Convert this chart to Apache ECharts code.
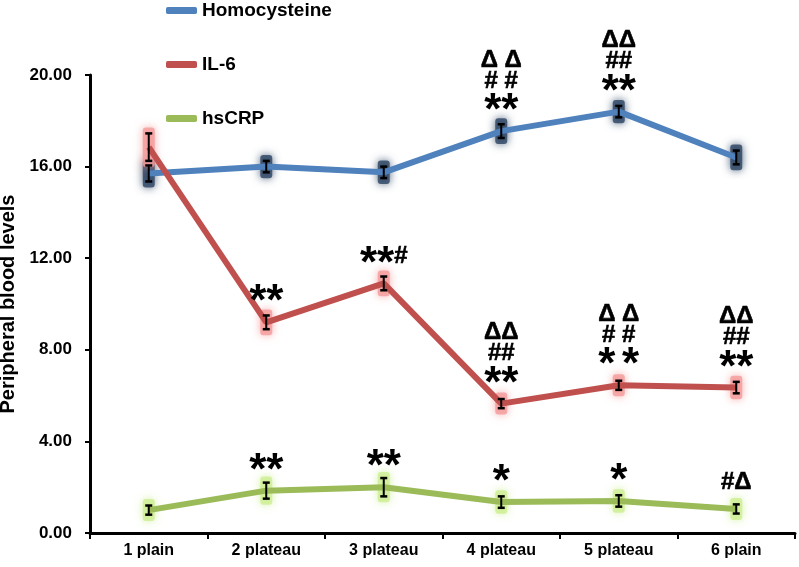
<!DOCTYPE html>
<html><head><meta charset="utf-8">
<script src="https://cdn.jsdelivr.net/npm/echarts@6/dist/echarts.min.js"></script>
<style>html,body{margin:0;padding:0;background:#fff}#c{width:799px;height:567px}</style>
</head><body><div id="c"></div>
<script>
const categories = ['1 plain', '2 plateau', '3 plateau', '4 plateau', '5 plateau', '6 plain'];
const yTicks = [0, 4, 8, 12, 16, 20];

const homocysteine    = [15.7, 16.0, 15.75, 17.55, 18.4, 16.4];
const homocysteineErr = [0.35, 0.25, 0.25, 0.3, 0.25, 0.3];
const homocysteineSig = [[], [], [], ['Δ Δ', '# #', '**'], ['ΔΔ', '##', '**'], []];

const il6    = [16.85, 9.2, 10.9, 5.65, 6.45, 6.35];
const il6Err = [0.6, 0.3, 0.3, 0.2, 0.2, 0.25];
const il6Sig = [[], ['**'], ['**#'], ['ΔΔ', '##', '**'], ['Δ Δ', '# #', '* *'], ['ΔΔ', '##', '**']];

const hscrp    = [1.0, 1.85, 2.0, 1.35, 1.4, 1.05];
const hscrpErr = [0.2, 0.35, 0.4, 0.25, 0.25, 0.2];
const hscrpSig = [[], ['**'], ['**'], ['*'], ['*'], ['#Δ']];

const seriesNames = ['Homocysteine', 'IL-6', 'hsCRP'];
const colors = ['#4F81BD', '#C0504D', '#9BBB59'];
const glows = ['#2a4262', '#f59a9a', '#cdee92'];

const FONT = '"Liberation Sans", Arial, sans-serif';
const STAR_FONT = 'bold 44px ' + FONT;
const MARK_FONT = 'bold 24px ' + FONT;
const measureCtx = document.createElement('canvas').getContext('2d');
function textW(t, f) { measureCtx.font = f; return measureCtx.measureText(t).width; }

const chart = echarts.init(document.getElementById('c'), null, {renderer: 'canvas'});

// split a line into runs of star / non-star characters
function runs(t) {
  const out = [];
  for (const ch of t) {
    const star = ch === '*';
    if (out.length && out[out.length - 1].star === star) out[out.length - 1].t += ch;
    else out.push({t: ch, star: star});
  }
  return out;
}

function lineTexts(t, cx, cy) {
  const rs = runs(t);
  const widths = rs.map(r => textW(r.t, r.star ? STAR_FONT : MARK_FONT));
  const total = widths.reduce((a, b) => a + b, 0);
  let x = cx - total / 2;
  const els = [];
  rs.forEach((r, k) => {
    els.push({
      type: 'text',
      style: {
        text: r.t, x: x, y: r.star ? cy + 9 : cy + 1,
        align: 'left', verticalAlign: 'middle',
        font: r.star ? STAR_FONT : MARK_FONT, fill: '#000',
        stroke: r.star ? null : '#000', lineWidth: r.star ? 0 : 0.6
      }
    });
    x += widths[k];
  });
  return els;
}

function errSeries(vals, errs, sigs, idx) {
  return {
    type: 'custom',
    name: seriesNames[idx] + ' err',
    z: 5,
    silent: true,
    data: vals.map((v, i) => [i, v, errs[i]]),
    renderItem: function (params, api) {
      const i = api.value(0), v = api.value(1), e = api.value(2);
      const p = api.coord([i, v]);
      const top = api.coord([i, v + e]);
      const bot = api.coord([i, v - e]);
      const cw = 3.5;
      let children = [
        {type: 'line', shape: {x1: p[0], y1: top[1], x2: p[0], y2: bot[1]}, style: {stroke: '#000', lineWidth: 2}},
        {type: 'line', shape: {x1: p[0] - cw, y1: top[1], x2: p[0] + cw, y2: top[1]}, style: {stroke: '#000', lineWidth: 2.5}},
        {type: 'line', shape: {x1: p[0] - cw, y1: bot[1], x2: p[0] + cw, y2: bot[1]}, style: {stroke: '#000', lineWidth: 2.5}}
      ];
      const sig = sigs[params.dataIndex];
      const offsets = [-28, -51, -72];
      for (let k = sig.length - 1, n = 0; k >= 0; k--, n++) {
        children = children.concat(lineTexts(sig[k], p[0], p[1] + offsets[n]));
      }
      return {type: 'group', children: children};
    }
  };
}

function glowSeries(vals, errs, idx) {
  return {
    type: 'custom',
    name: seriesNames[idx] + ' glow',
    z: 1,
    silent: true,
    data: vals.map((v, i) => [i, v, errs[i]]),
    renderItem: function (params, api) {
      const i = api.value(0), v = api.value(1), e = api.value(2);
      const p = api.coord([i, v]);
      const top = api.coord([i, v + e]);
      const bot = api.coord([i, v - e]);
      const h = Math.max(bot[1] - top[1], 10) + 12;
      return {
        type: 'rect',
        shape: {x: p[0] - 6, y: p[1] - h / 2, width: 12, height: h, r: 3},
        style: {fill: glows[idx], shadowBlur: 9, shadowColor: glows[idx], opacity: 0.8}
      };
    }
  };
}

function lineSeries(vals, idx) {
  return {
    type: 'line',
    name: seriesNames[idx],
    z: 3,
    data: vals,
    symbol: 'none',
    lineStyle: {color: colors[idx], width: 6},
    itemStyle: {color: colors[idx]}
  };
}

const option = {
  animation: false,
  backgroundColor: '#fff',
  grid: {left: 90, right: 4, top: 75, bottom: 34, outerBoundsMode: 'none', containLabel: false},
  legend: {
    data: seriesNames,
    orient: 'vertical',
    left: 161,
    top: -4,
    itemGap: 35,
    itemWidth: 31,
    itemHeight: 7,
    icon: 'roundRect',
    textStyle: {fontFamily: FONT, fontWeight: 'bold', fontSize: 19, color: '#000'}
  },
  xAxis: {
    type: 'category',
    data: categories,
    boundaryGap: true,
    axisLine: {lineStyle: {color: '#000', width: 3}},
    axisTick: {show: true, length: 6, lineStyle: {color: '#000', width: 2}},
    axisLabel: {fontFamily: FONT, fontWeight: 'bold', fontSize: 16, color: '#000', margin: 10}
  },
  yAxis: {
    type: 'value',
    min: 0, max: 20, interval: 4,
    name: 'Peripheral blood levels',
    nameLocation: 'middle',
    nameGap: 66,
    nameTextStyle: {fontFamily: FONT, fontWeight: 'bold', fontSize: 20, color: '#000'},
    axisLine: {show: true, lineStyle: {color: '#000', width: 3}},
    axisTick: {show: true, length: 5, lineStyle: {color: '#000', width: 2}},
    splitLine: {show: false},
    axisLabel: {
      fontFamily: FONT, fontWeight: 'bold', fontSize: 17, color: '#000', margin: 18,
      formatter: v => yTicks.indexOf(v) >= 0 ? v.toFixed(2) : ''
    }
  },
  series: [
    glowSeries(homocysteine, homocysteineErr, 0),
    glowSeries(il6, il6Err, 1),
    glowSeries(hscrp, hscrpErr, 2),
    lineSeries(homocysteine, 0),
    lineSeries(il6, 1),
    lineSeries(hscrp, 2),
    errSeries(homocysteine, homocysteineErr, homocysteineSig, 0),
    errSeries(il6, il6Err, il6Sig, 1),
    errSeries(hscrp, hscrpErr, hscrpSig, 2)
  ]
};
chart.setOption(option);
</script></body></html>
